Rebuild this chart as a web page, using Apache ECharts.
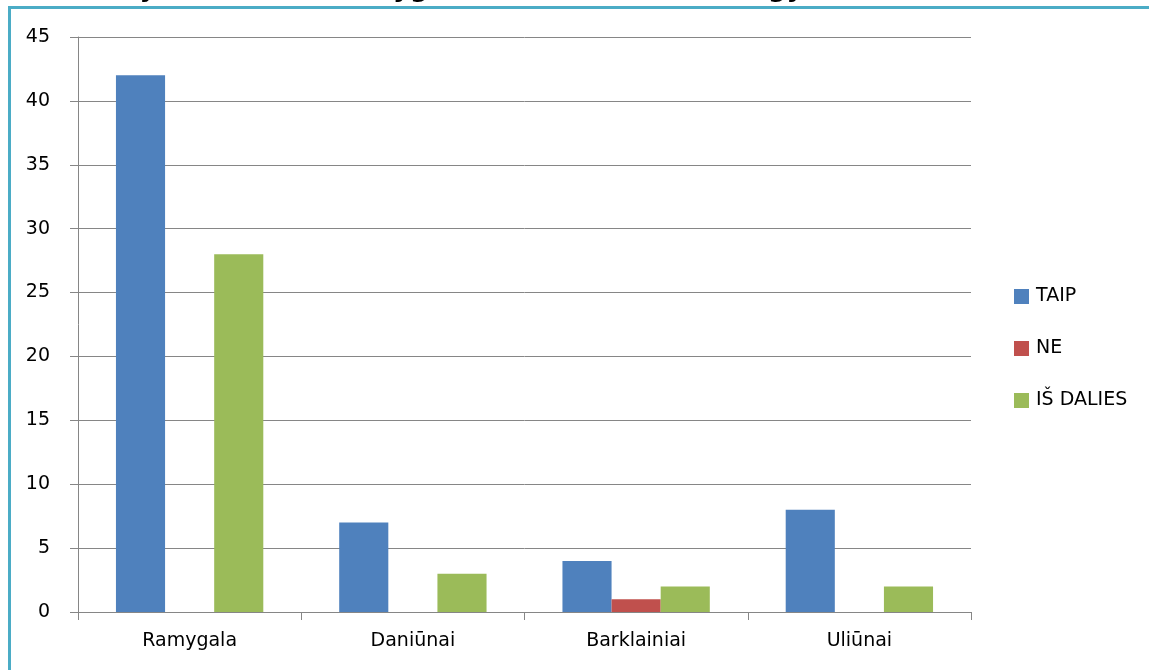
<!DOCTYPE html>
<html>
<head>
<meta charset="utf-8">
<script src="https://cdn.jsdelivr.net/npm/echarts@6/dist/echarts.min.js"></script>
<style>html,body{margin:0;padding:0;background:#fff;}#c{width:1149px;height:670px;}</style>
</head>
<body>
<div id="c"></div>
<script>
var categories = ['Ramygala', 'Daniūnai', 'Barklainiai', 'Uliūnai'];
var seriesNames = ['TAIP', 'NE', 'IŠ DALIES'];
var taip = [42, 7, 4, 8];
var ne = [0, 0, 1, 0];
var isDalies = [28, 3, 2, 2];
var yTicks = [0, 5, 10, 15, 20, 25, 30, 35, 40, 45];
var titleFragments = [['j', 143], ['yg', 393], ['gy', 768]];

var FONT = 'DejaVu Sans';
var chart = echarts.init(document.getElementById('c'), null, {renderer: 'canvas'});
var graphics = [{
  type: 'polyline', silent: true, z: 10,
  shape: {points: [[9.5, 2000], [9.5, 7.5], [2000, 7.5]]},
  style: {fill: null, stroke: '#4bacc6', lineWidth: 3}
}];
titleFragments.forEach(function (f) {
  graphics.push({
    type: 'text', left: f[1], top: -24, silent: true, z: 5,
    style: {text: f[0], fontFamily: FONT, fontWeight: 'bold', fontSize: 26, fill: '#000'}
  });
});
chart.setOption({
  animation: false,
  backgroundColor: '#fff',
  grid: {left: 78, right: 178, top: 37, bottom: 58},
  legend: {
    orient: 'vertical', left: 1014, top: 287, padding: 0,
    itemWidth: 15, itemHeight: 15, itemGap: 33,
    icon: 'rect',
    textStyle: {fontFamily: FONT, fontSize: 19, color: '#000', padding: [0, 0, 0, 2]},
    data: seriesNames
  },
  xAxis: {
    type: 'category', data: categories,
    axisLine: {lineStyle: {color: '#868686', width: 1}},
    axisTick: {show: true, length: 8, lineStyle: {color: '#868686'}},
    axisLabel: {fontFamily: FONT, fontSize: 19, color: '#000', margin: 20}
  },
  yAxis: {
    type: 'value', min: yTicks[0], max: yTicks[yTicks.length - 1], interval: yTicks[1] - yTicks[0],
    axisLine: {show: true, lineStyle: {color: '#868686'}},
    axisTick: {show: true, length: 8, lineStyle: {color: '#868686'}},
    splitLine: {lineStyle: {color: '#868686', width: 1}},
    axisLabel: {fontFamily: FONT, fontSize: 19, color: '#000', margin: 28}
  },
  series: [
    {name: seriesNames[0], type: 'bar', data: taip, barGap: '0%', barCategoryGap: '34%', itemStyle: {color: '#4f81bd'}},
    {name: seriesNames[1], type: 'bar', data: ne, barGap: '0%', barCategoryGap: '34%', itemStyle: {color: '#c0504d'}},
    {name: seriesNames[2], type: 'bar', data: isDalies, barGap: '0%', barCategoryGap: '34%', itemStyle: {color: '#9bbb59'}}
  ],
  graphic: graphics
});
</script>
</body>
</html>
